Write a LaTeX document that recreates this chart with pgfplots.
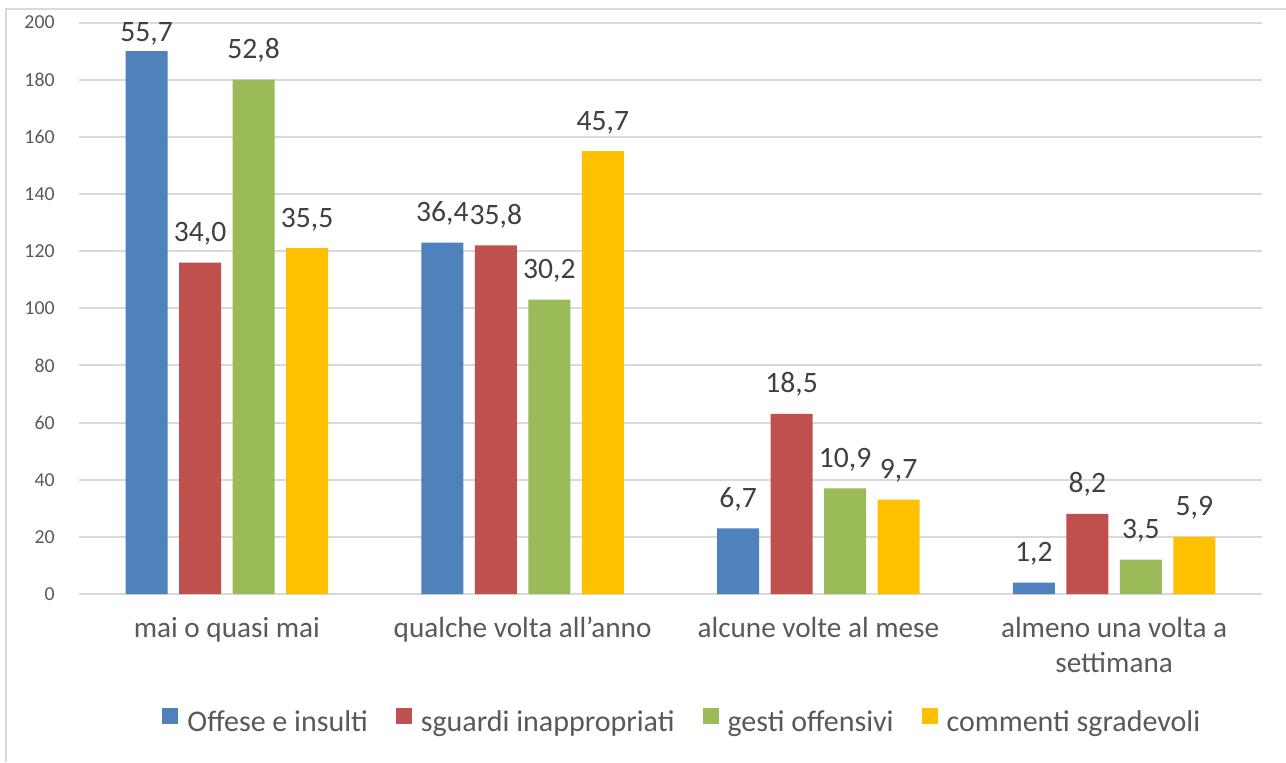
\documentclass[border=0pt]{standalone}
\usepackage{pgfplots}
\usepackage{pgfplotstable}
\usepackage{fontspec}
\pgfplotsset{compat=1.18}
\setmainfont{Carlito}

\definecolor{cBlue}{HTML}{4F81BD}
\definecolor{cRed}{HTML}{C0504D}
\definecolor{cGreen}{HTML}{9BBB59}
\definecolor{cYellow}{HTML}{FFC000}
\definecolor{txtGray}{HTML}{595959}
\definecolor{lblGray}{HTML}{404040}
\definecolor{gridGray}{HTML}{D9D9D9}

% x: category index, y: bar height, lab: percentage printed above the bar,
% dy: lift of the label above the bar top in pt (smaller where it would leave the plot area)
\pgfplotstableread{
x y lab dy
0 190 55,7 4.9
1 123 36,4 10.5
2 23 6,7 10.5
3 4 1,2 10.5
}\offese
\pgfplotstableread{
x y lab dy
0 116 34,0 10.5
1 122 35,8 10.5
2 63 18,5 10.5
3 28 8,2 10.5
}\sguardi
\pgfplotstableread{
x y lab dy
0 180 52,8 10.5
1 103 30,2 10.5
2 37 10,9 10.5
3 12 3,5 10.5
}\gesti
\pgfplotstableread{
x y lab dy
0 121 35,5 10.5
1 155 45,7 10.5
2 33 9,7 10.5
3 20 5,9 10.5
}\commenti

\pgfplotsset{
  sq legend/.style={legend image code/.code={\fill[##1] (0pt,-0.5pt) rectangle (8pt,7.5pt);}},
}

\begin{document}
\begin{tikzpicture}
\useasboundingbox (0,0) rectangle (643pt,381pt);
% outer chart frame (left and top edges)
\draw[gridGray, line width=1pt] (3pt,0) -- (3pt,376.5pt) -- (643pt,376.5pt);
\begin{axis}[
  at={(39.5pt,84pt)}, anchor=south west,
  scale only axis, width=591.5pt, height=285.75pt,
  ybar=5.75pt, bar width=21pt,
  xmin=-0.5, xmax=3.5, ymin=0, ymax=200,
  ytick={0,20,...,200},
  xtick={0,1,2,3},
  xticklabels={\strut mai o quasi mai, \strut qualche volta all’anno, \strut alcune volte al mese, {\strut almeno una volta a\\settimana}},
  axis line style={draw=none},
  major tick length=0pt,
  ymajorgrids, grid style={gridGray, line width=1pt},
  /pgf/number format/assume math mode=true,
  yticklabel style={font=\fontsize{9.9}{12}\selectfont, text=txtGray, anchor=east, inner sep=0pt, xshift=-12pt},
  xticklabel style={font=\fontsize{14.6}{17.5}\selectfont, text=txtGray, align=center, anchor=north, inner sep=0pt, yshift=-9.25pt},
  point meta=explicit symbolic,
  visualization depends on={\thisrow{dy} \as \labdy},
  nodes near coords={\pgfplotspointmeta},
  every node near coord/.append style={font=\fontsize{14.8}{17}\selectfont, text=lblGray, anchor=base, inner sep=0pt, yshift=\labdy},
  legend columns=4,
  legend style={draw=none, at={(0.0702,-0.2225)}, anchor=west, inner sep=0pt,
    font=\fontsize{15}{18}\selectfont, text=txtGray,
    nodes={inner sep=0pt},
    /tikz/every odd column/.append style={column sep=4.5pt},
    /tikz/every even column/.append style={column sep=14pt}},
]
\addplot[fill=cBlue, draw=none, sq legend] table[x=x, y=y, meta=lab] {\offese};
\addplot[fill=cRed, draw=none, sq legend] table[x=x, y=y, meta=lab] {\sguardi};
\addplot[fill=cGreen, draw=none, sq legend] table[x=x, y=y, meta=lab] {\gesti};
\addplot[fill=cYellow, draw=none, sq legend] table[x=x, y=y, meta=lab] {\commenti};
\legend{Offese e insulti, sguardi inappropriati, gesti offensivi, commenti sgradevoli}
\end{axis}
\end{tikzpicture}
\end{document}
